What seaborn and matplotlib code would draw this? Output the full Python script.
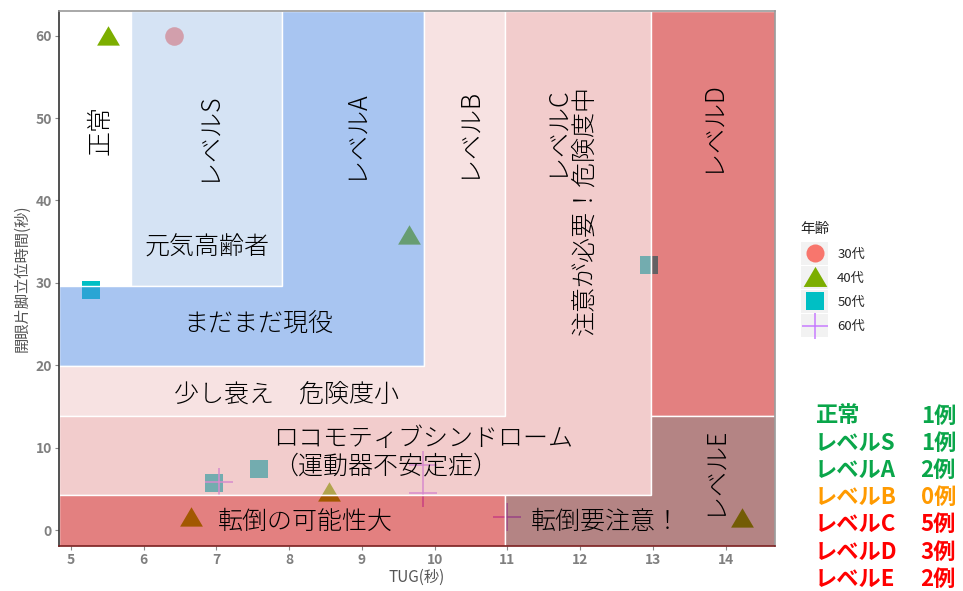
import matplotlib
matplotlib.use("Agg")
import matplotlib.pyplot as plt
import seaborn as sns
import pandas as pd
from matplotlib.patches import Polygon, Rectangle
from matplotlib.lines import Line2D

# ---------------- data ----------------
age_group = ['30代', '40代', '40代', '40代', '40代', '40代',
             '50代', '50代', '50代', '50代', '60代', '60代', '60代', '60代']
tug_sec = [6.42, 5.51, 9.65, 8.55, 6.65, 14.23,
           5.27, 6.97, 7.59, 12.95, 7.04, 9.84, 9.84, 11.0]
stand_sec = [60.0, 60.0, 35.8, 4.6, 1.6, 1.45,
             29.1, 5.7, 7.4, 32.2, 5.8, 7.9, 4.5, 1.6]

age_levels = ['30代', '40代', '50代', '60代']
age_colors = ['#F8766D', '#7CAE00', '#00BFC4', '#C77CFF']

x_ticks = [5, 6, 7, 8, 9, 10, 11, 12, 13, 14]
y_ticks = [0, 10, 20, 30, 40, 50, 60]

# region thresholds (TUG seconds / standing seconds)
tug_cut = [5.83, 7.90, 9.86, 10.97, 12.98]
stand_cut = [4.3, 13.8, 19.9, 29.6]

level_names = ['正常', 'レベルS', 'レベルA', 'レベルB', 'レベルC', 'レベルD', 'レベルE']
level_counts = [1, 1, 2, 0, 5, 3, 2]
level_colors = ['#0AA64A', '#0AA64A', '#0AA64A', '#FF9A00', '#FF0000', '#FF0000', '#FF0000']

df = pd.DataFrame({'TUG': tug_sec, 'stand': stand_sec, 'age': age_group})

# ---------------- style ----------------
sns.set_style('white')
plt.rcParams['font.family'] = ['Noto Sans CJK JP', 'DejaVu Sans']

tri = [(-1, -0.8), (1, -0.8), (0, 0.9)]  # flatter (equilateral-like) triangle
age_markers = ['o', tri, 's', '+']
age_sizes = [180, 270, 170, 380]

fig = plt.figure(figsize=(9.63, 5.91), dpi=100)
ax = fig.add_axes([59 / 963, 1 - 546 / 591, (775 - 59) / 963, (546 - 11) / 591])

x0, x1 = 4.835, 14.68
y0, y1 = -1.94, 63.0
ax.set_xlim(x0, x1)
ax.set_ylim(y0, y1)

# points (drawn under the translucent regions)
for lvl, col, mk, sz in zip(age_levels, age_colors, age_markers, age_sizes):
    sub = df[df['age'] == lvl]
    if isinstance(mk, str) and mk == '+':
        sns.scatterplot(data=sub, x='TUG', y='stand', marker=mk, color=col, s=sz,
                        linewidth=1.1, ax=ax, zorder=1, legend=False)
    else:
        sns.scatterplot(data=sub, x='TUG', y='stand', marker=mk, color=col, s=sz,
                        linewidth=0, ax=ax, zorder=1, legend=False)

a, s_, A_, B_, C_ = tug_cut
h4, h14, h20, h30 = stand_cut


def region(verts, observed, alpha=0.5):
    r, g, b = [int(observed[i:i + 2], 16) for i in (1, 3, 5)]
    base = [max(0, min(255, (v - (1 - alpha) * 255) / alpha)) / 255 for v in (r, g, b)]
    ax.add_patch(Polygon(verts, closed=True, facecolor=(*base, alpha),
                         edgecolor='white', linewidth=1.0, zorder=2))

# レベルS
region([(a, h30), (s_, h30), (s_, y1), (a, y1)], '#D6E4F5')
# レベルA
region([(x0, h20), (A_, h20), (A_, y1), (s_, y1), (s_, h30), (x0, h30)], '#A9C6F2')
# レベルB
region([(x0, h14), (B_, h14), (B_, y1), (A_, y1), (A_, h20), (x0, h20)], '#F8E3E3')
# レベルC
region([(x0, h4), (C_, h4), (C_, y1), (B_, y1), (B_, h14), (x0, h14)], '#F3CDCD')
# レベルD
region([(C_, h14), (x1, h14), (x1, y1), (C_, y1)], '#E48181')
# 転倒の可能性大
region([(x0, y0), (B_, y0), (B_, h4), (x0, h4)], '#E48181')
# レベルE
region([(B_, y0), (x1, y0), (x1, h14), (C_, h14), (C_, h4), (B_, h4)], '#B58585')

# region labels
tk = dict(color='black', fontsize=18, fontweight=300, ha='center', va='center', zorder=3)
ax.text(5.41, 48.5, '正常', rotation=90, **tk)
ax.text(6.87, 47.8, 'レベルS', rotation=90, **tk)
ax.text(6.87, 34.3, '元気高齢者', **tk)
ax.text(8.90, 48.0, 'レベルA', rotation=90, **tk)
ax.text(10.45, 48.2, 'レベルB', rotation=90, **tk)
ax.text(11.86, 38.8, 'レベルC\n注意が必要！危険度中', rotation=90, multialignment='right',
        linespacing=1.1, **tk)
ax.text(13.80, 49.0, 'レベルD', rotation=90, **tk)
ax.text(7.57, 25.1, 'まだまだ現役', **tk)
ax.text(7.97, 16.5, '少し衰え　危険度小', **tk)
ax.text(9.84, 9.4, 'ロコモティブシンドローム\n（運動器不安定症）', multialignment='left',
        linespacing=1.05, **tk)
ax.text(8.22, 1.0, '転倒の可能性大', **tk)
ax.text(12.35, 1.0, '転倒要注意！', **tk)
ax.text(13.83, 7.3, 'レベルE', rotation=90, **tk)

# axes styling
ax.set_xticks(x_ticks)
ax.set_yticks(y_ticks)
ax.tick_params(axis='both', which='both', length=3, width=0.8, color='#888888',
               labelcolor='#7F7F7F', labelsize=10, bottom=True, left=True, pad=2)
for lab in ax.get_xticklabels() + ax.get_yticklabels():
    lab.set_fontweight('bold')
ax.set_xlabel('TUG(秒)', fontsize=11, color='#555555', labelpad=1)
ax.set_ylabel('開眼片脚立位時間(秒)', fontsize=11, color='#555555', labelpad=4)
ax.grid(False)
ax.spines['left'].set_color('#333333')
ax.spines['bottom'].set_color('#7A1E1E')
ax.spines['top'].set_color('#999999')
ax.spines['right'].set_color('#999999')
for sp in ax.spines.values():
    sp.set_linewidth(1.2)
    sp.set_zorder(4)

# legend key backgrounds (ggplot style)
for i in range(len(age_levels)):
    top = 242 + i * 24
    fig.patches.append(Rectangle((801 / 963, 1 - (top + 23) / 591), 27 / 963, 23 / 591,
                                 transform=fig.transFigure, facecolor='#F2F2F2',
                                 edgecolor='none', zorder=0))

handles = []
for lvl, col, mk in zip(age_levels, age_colors, age_markers):
    if isinstance(mk, str) and mk == '+':
        handles.append(Line2D([], [], marker=mk, color=col, linestyle='none',
                              markersize=19, markeredgewidth=1.1, label=lvl))
    else:
        handles.append(Line2D([], [], marker=mk, color=col, linestyle='none',
                              markersize=13 if mk in ('o', 's') else 17,
                              markeredgewidth=0, label=lvl))
leg = fig.legend(handles=handles, title='年齢', loc='upper left',
                 bbox_to_anchor=(795 / 963, 1 - 217 / 591), frameon=False,
                 fontsize=9.5, title_fontsize=10.5, handlelength=2.2,
                 handletextpad=0.6, labelspacing=0.85, borderaxespad=0)
leg._legend_box.align = 'left'
leg.set_zorder(5)

# level counts block
for i, (nm, cnt, col) in enumerate(zip(level_names, level_counts, level_colors)):
    ypx = 416 + i * 27.2
    fig.text(815 / 963, 1 - ypx / 591, nm, color=col, fontsize=16,
             fontweight='bold', ha='left', va='center')
    fig.text(956 / 963, 1 - ypx / 591, f'{cnt}例', color=col, fontsize=16,
             fontweight='bold', ha='right', va='center')

fig.savefig('out.png', dpi=100)
